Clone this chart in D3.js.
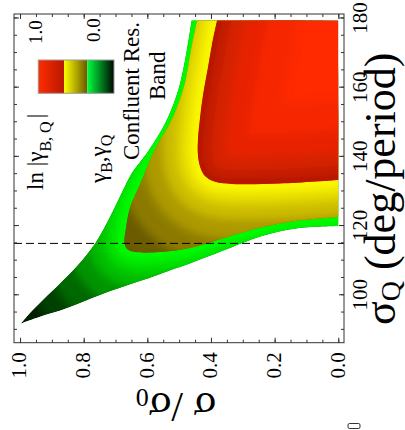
<!DOCTYPE html>
<html><head><meta charset="utf-8">
<script src="https://cdn.jsdelivr.net/npm/d3@7"></script>
<style>
html,body{margin:0;padding:0;background:#fff;}
svg{display:block;font-family:"Liberation Serif","Times New Roman",serif;}
</style></head><body>
<svg id="chart" width="405" height="430"></svg>
<script>
// ---------------- data ----------------
const xTicks = [1.0, 0.8, 0.6, 0.4, 0.2, 0.0];
const xTickLabels = ["1.0", "0.8", "0.6", "0.4", "0.2", "0.0"];
const xMinorTicks = [1.0,0.95,0.9,0.85,0.8,0.75,0.7,0.65,0.6,0.55,0.5,0.45,0.4,0.35,0.3,0.25,0.2,0.15,0.1,0.05,0.0];
const yTicks = [100, 120, 140, 160, 180];
const yTickLabels = ["100", "120", "140", "160", "180"];
const yMinorTicks = [90,95,100,105,110,115,120,125,130,135,140,145,150,155,160,165,170,175,180];
const dashedLevel = 114.7;
const topLevel = 179.1;
// outer boundary of band (sigma/sigma0, sigma_Q): tip -> top
const outerUpper = [[0.998,91.5],[0.969,94.6],[0.927,98.4],[0.874,103.1],[0.822,108.0],[0.764,114.7],[0.717,122.4],[0.691,127.3],[0.649,135.0],[0.623,138.2],[0.595,141.7],[0.539,150.4],[0.497,161.0],[0.461,179.1]];
// outer boundary: tip -> right edge
const outerLower = [[0.998,91.5],[0.937,93.5],[0.853,96.0],[0.749,99.8],[0.623,103.8],[0.529,106.9],[0.466,108.9],[0.403,111.1],[0.340,113.4],[0.236,116.9],[0.131,119.0],[0.0,119.7]];
// green / yellow boundary
const yellowEdge = [[0.444,179.1],[0.463,170.6],[0.482,161.1],[0.510,153.3],[0.532,148.9],[0.560,144.6],[0.588,139.7],[0.617,133.0],[0.654,125.2],[0.667,119.2],[0.672,114.8],[0.664,113.1],[0.639,112.2],[0.560,112.2],[0.466,113.4],[0.340,116.8],[0.246,119.2],[0.152,120.9],[0.0,122.3]];
// yellow / red boundary
const redEdge = [[0.381,179.1],[0.397,172.1],[0.409,165.8],[0.425,157.6],[0.434,151.3],[0.441,144.6],[0.441,140.3],[0.434,136.8],[0.419,134.2],[0.387,132.5],[0.334,131.9],[0.183,132.0],[0.0,133.0]];
const legendLabels = ["1.0", "0.0"];

// ---------------- setup ----------------
const svg = d3.select("#chart");
const x = d3.scaleLinear().domain([1.019, -0.018]).range([14, 344]);
const y = d3.scaleLinear().domain([181.0, 86.0]).range([14, 342.7]);
const line = d3.line().x(d => x(d[0])).y(d => y(d[1])).curve(d3.curveCatmullRom.alpha(0.5));
const cont = s => s.replace(/^M/, "L");

const greenPath = line(outerUpper) + `L${x(0)},${y(topLevel)}` + cont(line(outerLower.slice().reverse())) + "Z";
const yellowPath = line(yellowEdge) + `L${x(0)},${y(topLevel)}Z`;
const redPath = line(redEdge) + `L${x(0)},${y(topLevel)}Z`;

const defs = svg.append("defs");
defs.append("clipPath").attr("id", "cG").append("path").attr("d", greenPath);
defs.append("clipPath").attr("id", "cY").append("path").attr("d", yellowPath);
defs.append("clipPath").attr("id", "cR").append("path").attr("d", redPath);
defs.append("filter").attr("id", "soft").attr("filterUnits", "userSpaceOnUse")
  .attr("x", -200).attr("y", -200).attr("width", 800).attr("height", 800)
  .append("feGaussianBlur").attr("stdDeviation", 4);

function region(clipId, path, base, edge, stops) {
  const g = svg.append("g").attr("clip-path", `url(#${clipId})`);
  g.append("path").attr("d", path).attr("fill", base);
  g.append("g").attr("filter", "url(#soft)")
    .selectAll("path").data(stops).join("path")
    .attr("d", line(edge)).attr("fill", "none")
    .attr("stroke", d => d[1]).attr("stroke-width", d => d[0])
    .attr("stroke-linejoin", "round").attr("stroke-linecap", "round");
}
region("cG", greenPath, "#002000", yellowEdge,
  [[210,"#004000"],[160,"#006800"],[110,"#009400"],[70,"#00bc00"],[40,"#00dc00"],[20,"#00f200"],[8,"#00ff00"]]);
region("cY", yellowPath, "#564800", redEdge,
  [[220,"#6c5c00"],[160,"#8c7a00"],[110,"#ac9a00"],[70,"#ccbc00"],[40,"#e6da00"],[20,"#f6f000"],[6,"#ffff00"]]);
region("cR", redPath, "#ff2a00", redEdge,
  [[160,"#f62800"],[100,"#e82400"],[56,"#d62000"],[28,"#c41c00"],[10,"#b41800"]]);

// dashed line
svg.append("line").attr("x1", x.range()[0]).attr("x2", x.range()[1])
  .attr("y1", y(dashedLevel)).attr("y2", y(dashedLevel))
  .attr("stroke", "#000").attr("stroke-width", 1).attr("stroke-dasharray", "8,4");

// frame
svg.append("rect").attr("x", 14).attr("y", 14).attr("width", 330).attr("height", 328.7)
  .attr("fill", "none").attr("stroke", "#333").attr("stroke-width", 1);

// axes
const bottom = y.range()[1], right = x.range()[1];
function ticks(axisFn, scale, vals, size, tr) {
  const a = svg.append("g").attr("transform", tr)
    .call(axisFn(scale).tickValues(vals).tickSize(size).tickFormat(""));
  a.select(".domain").remove();
  a.selectAll("line").attr("stroke", "#333");
  return a;
}
ticks(d3.axisBottom, x, xMinorTicks, -3, `translate(0,${bottom})`);
ticks(d3.axisTop, x, xMinorTicks, -3, `translate(0,14)`);
ticks(d3.axisRight, y, yMinorTicks, -3, `translate(${right},0)`);
ticks(d3.axisLeft, y, yMinorTicks, -3, `translate(14,0)`);
ticks(d3.axisTop, x, xTicks, -5, `translate(0,14)`);
ticks(d3.axisLeft, y, yTicks, -5, `translate(14,0)`);

const xb = svg.append("g").attr("transform", `translate(0,${bottom})`)
  .call(d3.axisBottom(x).tickValues(xTicks).tickSize(-5).tickFormat((d, i) => xTickLabels[i]));
xb.select(".domain").remove();
xb.selectAll("line").attr("stroke", "#333");
xb.selectAll("text").attr("x", 0).attr("y", 0).attr("dy", "0.33em")
  .attr("transform", "translate(-1,9.5) rotate(-90)")
  .attr("text-anchor", "end").attr("fill", "#000")
  .style("font-size", "21px").style("font-family", "'Liberation Serif',serif");

const yr = svg.append("g").attr("transform", `translate(${right},0)`)
  .call(d3.axisRight(y).tickValues(yTicks).tickSize(-5).tickFormat((d, i) => yTickLabels[i]));
yr.select(".domain").remove();
yr.selectAll("line").attr("stroke", "#333");
yr.selectAll("text").attr("x", 0).attr("y", 0).attr("dy", 0)
  .attr("transform", "translate(23,0) rotate(-90)")
  .attr("text-anchor", "middle").attr("fill", "#000")
  .style("font-size", "21px").style("font-family", "'Liberation Serif',serif");

// legend
function grad(id, c1, c2) {
  const gr = defs.append("linearGradient").attr("id", id).attr("x1", 0).attr("x2", 1).attr("y1", 0).attr("y2", 0);
  gr.append("stop").attr("offset", 0).attr("stop-color", c1);
  gr.append("stop").attr("offset", 1).attr("stop-color", c2);
}
grad("lr", "#ff2c00", "#b81800");
grad("ly", "#ffff00", "#6a5800");
grad("lgn", "#00ff40", "#000800");
const legendSegs = [[38.3, 64, "lr"], [64, 87.3, "ly"], [87.3, 114, "lgn"]];
svg.append("g").selectAll("rect").data(legendSegs).join("rect")
  .attr("x", d => d[0]).attr("width", d => d[1] - d[0]).attr("y", 60).attr("height", 33.3)
  .attr("fill", d => `url(#${d[2]})`);
svg.append("rect").attr("x", 38.3).attr("y", 60).attr("width", 75.7).attr("height", 33.3)
  .attr("fill", "none").attr("stroke", "#999").attr("stroke-width", 1);
const legendScale = d3.scaleLinear().domain([1, 0]).range([42, 100]);
svg.append("g").selectAll("text").data(legendLabels).join("text")
  .attr("transform", (d, i) => `translate(${legendScale(+d)},${i ? 30 : 32}) rotate(-90)`)
  .attr("text-anchor", "middle").style("font-size", "19px").text(d => d);

// labels
function rtext(tx, ty, size, anchor) {
  return svg.append("text").attr("transform", `translate(${tx},${ty}) rotate(-90)`)
    .attr("text-anchor", anchor).style("font-size", size + "px");
}
const t1 = rtext(43, 190, 23, "start");
t1.append("tspan").text("ln |γ");
t1.append("tspan").attr("dy", 8).style("font-size", "16px").text("B, Q");
t1.append("tspan").attr("dy", -8).attr("dx", 3).text("|");

const t2 = rtext(106, 183, 23, "start");
t2.append("tspan").text("γ");
t2.append("tspan").attr("dy", 6).style("font-size", "16px").text("B");
t2.append("tspan").attr("dy", -6).text(",γ");
t2.append("tspan").attr("dy", 6).style("font-size", "16px").text("Q");

rtext(139, 160, 23, "start").text("Confluent Res.");
rtext(165, 100, 23, "start").text("Band");

// axis titles
const bt = svg.append("text").attr("transform", "translate(176,393) rotate(180)")
  .attr("text-anchor", "middle").style("font-size", "42px");
bt.append("tspan").text("σ /σ");
bt.append("tspan").attr("dy", 4).style("font-size", "26px").text("0");

const rt = rtext(395, 325, 44, "start");
rt.append("tspan").text("σ");
rt.append("tspan").attr("dy", 5).style("font-size", "28px").text("Q");
rt.append("tspan").attr("dy", -5).text(" (deg/period)");

// small mark bottom right
svg.append("rect").attr("x", 348).attr("y", 423.5).attr("width", 12).attr("height", 5).attr("rx", 1.5)
  .attr("fill", "none").attr("stroke", "#000").attr("stroke-width", 0.8);
</script>
</body></html>
